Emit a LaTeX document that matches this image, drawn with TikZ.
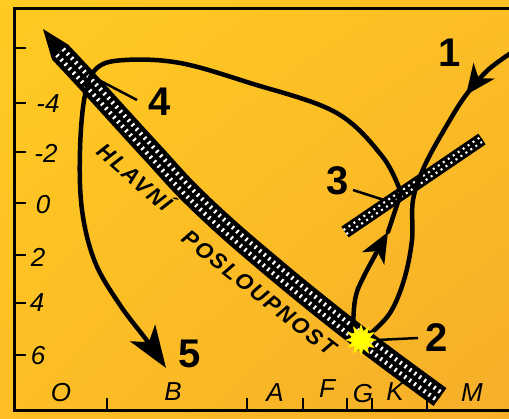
\documentclass[tikz,border=0pt]{standalone}
\usepackage{fontspec}
\setmainfont{Liberation Sans}
\setsansfont{Liberation Sans}
\usetikzlibrary{arrows.meta,shapes.geometric,decorations.markings,shadings}
\definecolor{bgA}{RGB}{255,202,34}
\definecolor{bgM}{RGB}{252,190,36}
\definecolor{bgB}{RGB}{245,174,42}
\definecolor{staryellow}{RGB}{255,255,0}
\begin{document}
\begin{tikzpicture}[x=1pt,y=-1pt,
  frame/.style={line width=3pt,black},
  tickmark/.style={line width=2.5pt,black},
  axislabel/.style={font=\fontsize{26}{26}\selectfont\itshape,inner sep=0pt},
  biglabel/.style={font=\fontsize{40}{40}\selectfont\bfseries,inner sep=0pt},
  msword/.style={font=\fontsize{22}{22}\selectfont\addfontfeatures{LetterSpace=9}\bfseries\itshape,inner sep=0pt},
  leader/.style={line width=2.5pt,black},
  track/.style={line width=4.5pt,black,line cap=round,line join=round},
  msband/.style={line width=22pt,black,
    postaction={draw,white,line width=13pt,dash pattern=on 2pt off 4pt},
    postaction={draw,black,line width=4pt}},
  gbband/.style={line width=13pt,black,
    postaction={draw,white,line width=7pt,dash pattern=on 2pt off 4pt},
    postaction={draw,black,line width=2.5pt}},
]
\path[use as bounding box] (0,0) rectangle (509,419);
\shade[upper left=bgA,upper right=bgM,lower left=bgM,lower right=bgB] (0,0) rectangle (509,419);

% frame and ticks
\draw[frame] (509,9) -- (14,9) -- (14,411) -- (509,411);
\foreach \yy in {48,103,152,203,255,303,355} \draw[tickmark] (14,\yy) -- (26,\yy);
\foreach \xx in {107,247,303,347,372,427} \draw[tickmark] (\xx,411) -- (\xx,398);

% axis labels
\node[axislabel] (ym4) at (48,104) {-4};
\node[axislabel] (ym2) at (46,153) {-2};
\node[axislabel] (y0) at (43,205) {0};
\node[axislabel] (y2) at (38,257) {2};
\node[axislabel] (y4) at (37,303) {4};
\node[axislabel] (y6) at (38,356) {6};
\node[axislabel] (xO) at (61,393) {O};
\node[axislabel] (xB) at (173,392) {B};
\node[axislabel] (xA) at (275,393) {A};
\node[axislabel] (xF) at (327,389) {F};
\node[axislabel] (xG) at (363,394) {G};
\node[axislabel] (xK) at (395,392) {K};
\node[axislabel] (xM) at (472,393) {M};

% main sequence band
\fill[black] (43,29) -- (68,44.5) -- (52,59.5) -- cycle;
\draw[msband] plot[smooth,tension=0.7] coordinates {(60,52) (88,82) (150,150) (200,203) (270,265) (358,336) (440,397)};
% giant branch band
\draw[gbband] (345,232) -- (482,139);

% text along main sequence
\node[msword,rotate=-41] (msA) at (136,176) {HLAVNÍ};
\node[msword,rotate=-38] (msB) at (259,293) {POSLOUPNOST};

% key points
\coordinate (junc) at (401,193);

% track 1 -> 2
\draw[track,decoration={markings,mark=at position 0.19 with {\arrow{Stealth[length=30pt,width=26pt,inset=9pt]}}},postaction={decorate}]
  plot[smooth,tension=0.6] coordinates {(511,53) (488,70) (466,95) (447,125) (425,165) (413,200) (412,240) (404,280) (390,313) (370,334)};

% track 2 -> 3
\coordinate (lbtip) at (388,232);
\draw[track,-{Stealth[length=30pt,width=25pt,inset=8pt]}]
  plot[smooth,tension=0.6] coordinates {(353,330) (355,300) (363,278) (388,232)};
\draw[track] (lbtip) -- (junc);

% loop 3 -> 4 -> 5
\draw[track,-{Stealth[length=42pt,width=30pt,inset=11pt]}]
  plot[smooth,tension=0.6] coordinates {(401,193) (382,156) (335,112) (250,83) (180,63) (125,60) (97,68) (85,95) (80,150) (82,210) (95,262) (120,305) (148,342) (166,368)};

% star at 2
\node[star,star points=12,star point ratio=1.7,minimum size=30pt,inner sep=0pt,
  fill=staryellow,draw=yellow!85!orange,line width=0.6pt] (stab) at (361,340) {};

% labels and leaders
\node[biglabel] (l1) at (450,53) {1};
\node[biglabel] (l2) at (437,338) {2};
\node[biglabel] (l3) at (338,181) {3};
\node[biglabel] (l4) at (160,102) {4};
\node[biglabel] (l5) at (190,354) {5};
\coordinate (p4) at (93,77);
\coordinate (p3) at (384,200);
\draw[leader] (p4) -- (137,100);
\draw[leader] (353,190) -- (p3);
\draw[leader] (stab.east) -- (418,338);
\end{tikzpicture}
\end{document}
